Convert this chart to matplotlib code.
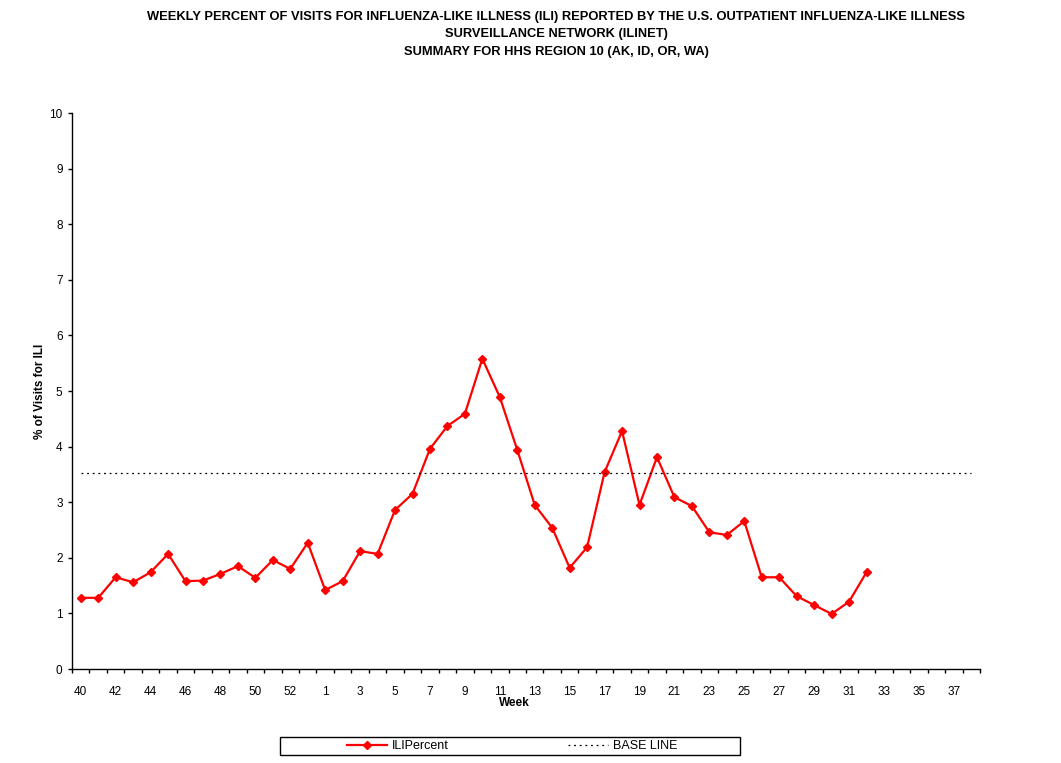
import numpy as np
import matplotlib.pyplot as plt
from matplotlib.patches import Rectangle
from matplotlib.lines import Line2D

# season weeks 40..53, then 1..38
weeks = list(range(40, 54)) + list(range(1, 39))
ili_percent = [1.28, 1.28, 1.65, 1.56, 1.74, 2.07, 1.58, 1.59, 1.71, 1.85,
               1.64, 1.96, 1.80, 2.27, 1.42, 1.58, 2.12, 2.07, 2.86, 3.15,
               3.96, 4.37, 4.59, 5.58, 4.89, 3.94, 2.95, 2.54, 1.82, 2.19,
               3.54, 4.28, 2.95, 3.81, 3.09, 2.93, 2.46, 2.41, 2.66, 1.65,
               1.65, 1.31, 1.15, 0.99, 1.21, 1.74]
baseline = 3.52

title = ("WEEKLY PERCENT OF VISITS FOR INFLUENZA-LIKE ILLNESS (ILI) REPORTED BY THE U.S. OUTPATIENT INFLUENZA-LIKE ILLNESS\n"
         "SURVEILLANCE NETWORK (ILINET)\n"
         "SUMMARY FOR HHS REGION 10 (AK, ID, OR, WA)")

plt.rcParams['font.family'] = ['Liberation Sans', 'DejaVu Sans']

W, H = 1061, 763
fig = plt.figure(figsize=(W / 100, H / 100), dpi=100)
ax = fig.add_axes([72 / W, 1 - 669 / H, (980 - 72) / W, (669 - 113) / H])

x = np.arange(len(weeks))
ax.plot(x[:len(ili_percent)], ili_percent, color='#ff0000', lw=1.6,
        marker='D', ms=4, mec='#ff0000', mfc='#ff0000')
ax.plot(x, [baseline] * len(x), color='black', lw=0.9, ls=(0, (1.5, 3)))

ax.set_xlim(-0.5, len(weeks) - 0.5)
ax.set_ylim(0, 10)
ax.set_yticks(range(0, 11))
ax.set_xticks(x[::2])
ax.set_xticklabels([str(w) for w in weeks[::2]])
ax.set_xticks(np.arange(-0.5, len(weeks)), minor=True)
ax.tick_params(axis='x', which='major', length=0, labelsize=8.5, pad=12)
ax.tick_params(axis='x', which='minor', length=3.2, width=1, direction='out')
ax.tick_params(axis='y', length=3.2, width=1, direction='out', labelsize=8.5, pad=3.6)
for s in ['top', 'right']:
    ax.spines[s].set_visible(False)
for s in ['left', 'bottom']:
    ax.spines[s].set_linewidth(1)

ax.set_xlabel('Week', fontsize=8.5, fontweight='bold', va='top')
ax.xaxis.set_label_coords((514 - 72) / 908, -(697 - 669) / 556)
ax.set_ylabel('% of Visits for ILI', fontsize=8.5, fontweight='bold')
ax.yaxis.set_label_coords(-(72 - 46) / 908, 0.5)

fig.text(556 / W, 1 - 11 / H, title, ha='center', va='top', fontsize=9.3,
         fontweight='bold', linespacing=1.6)

# legend
fig.patches.append(Rectangle((280 / W, 1 - 755 / H), 460 / W, 18 / H,
                             transform=fig.transFigure, fill=False,
                             edgecolor='black', lw=1))
handles = [Line2D([], [], color='#ff0000', lw=1.6, marker='D', ms=4),
           Line2D([], [], color='black', lw=0.9, ls=(0, (1.5, 3)))]
fig.legend(handles, ['ILIPercent', 'BASE LINE'], loc='center', ncol=2,
           bbox_to_anchor=(512 / W, 1 - 746 / H), frameon=False, fontsize=9,
           handlelength=3.2, handletextpad=0.4, columnspacing=9.5)

fig.savefig('out.png', dpi=100)
